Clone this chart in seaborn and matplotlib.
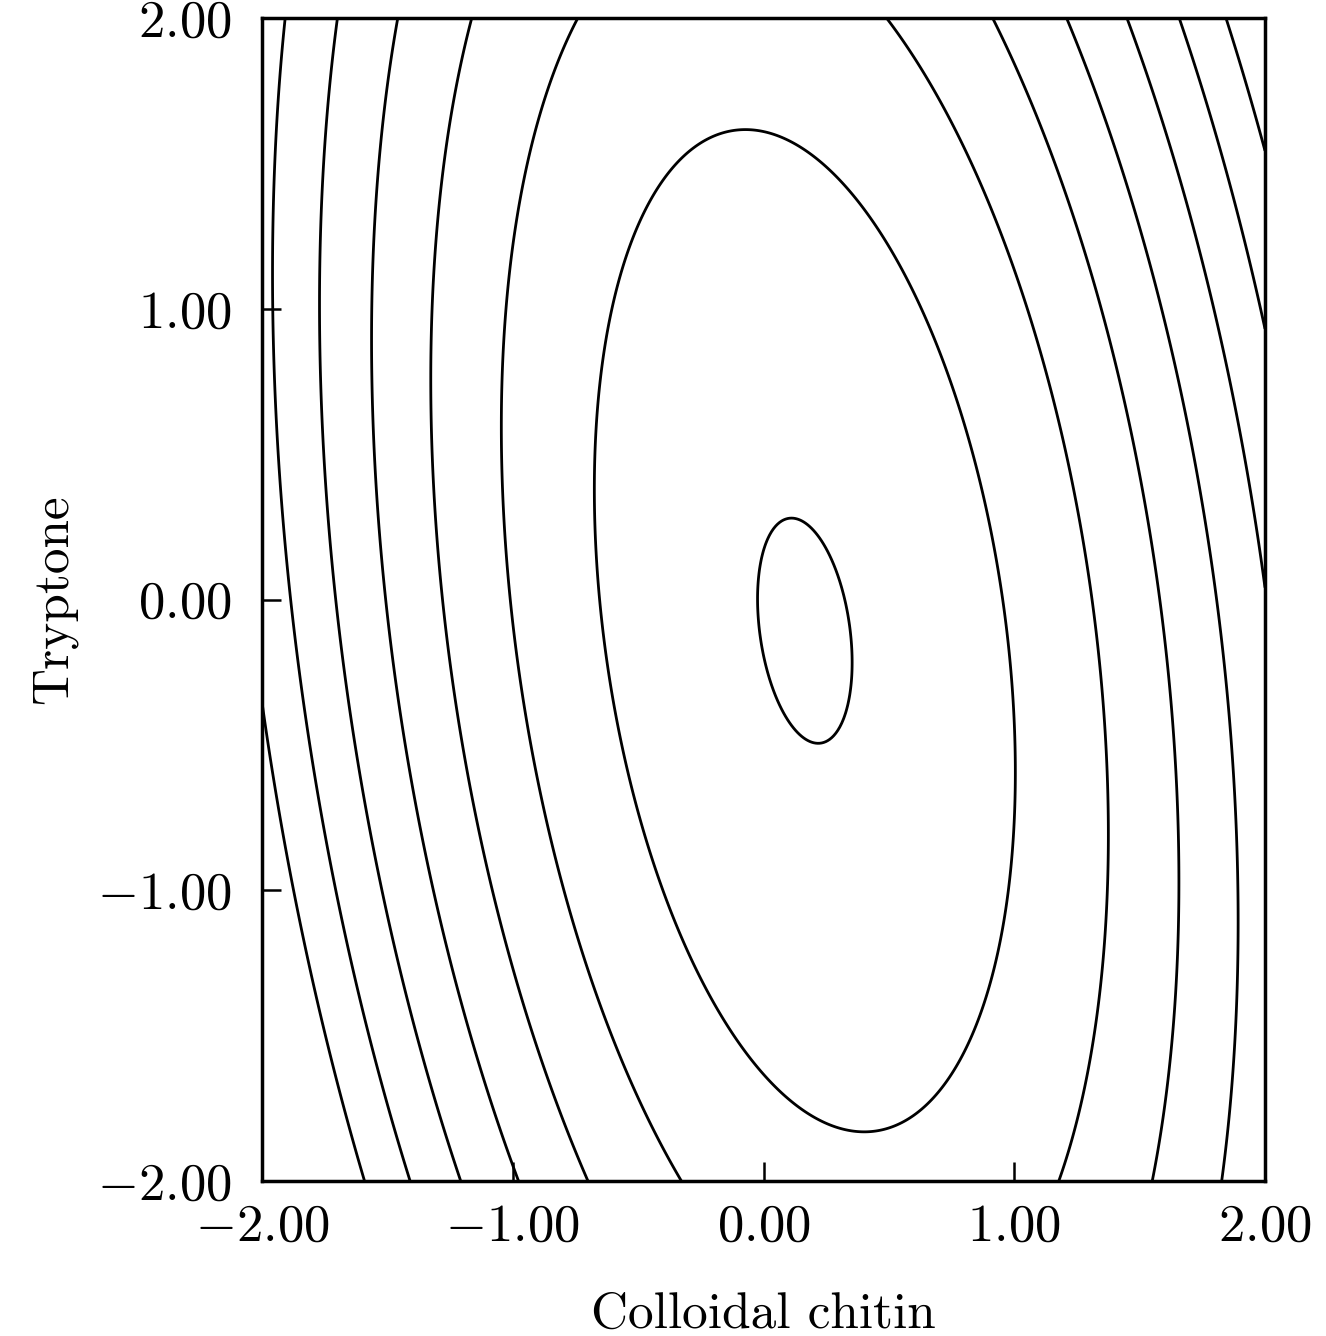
import numpy as np
import matplotlib
matplotlib.use("Agg")
import matplotlib.pyplot as plt
import seaborn as sns

# Fitted second-order response surface in coded units
coef_names = ["b0", "b1", "b2", "b11", "b22", "b12"]
coef_values = [10.891, 0.429, -0.008, -1.429, -0.339, -0.393]
contour_levels = [4, 5, 6, 7, 8, 9, 10, 10.88]

x_ticks = [-2, -1, 0, 1, 2]
y_ticks = [-2, -1, 0, 1, 2]
x_tick_labels = [r"$-2.00$", r"$-1.00$", r"$0.00$", r"$1.00$", r"$2.00$"]
y_tick_labels = [r"$-2.00$", r"$-1.00$", r"$0.00$", r"$1.00$", r"$2.00$"]
x_label = "Colloidal chitin"
y_label = "Tryptone"

sns.set_style("white")
plt.rcParams["mathtext.fontset"] = "cm"
plt.rcParams["font.family"] = ["cmr10", "DejaVu Serif"]
plt.rcParams["axes.unicode_minus"] = False
plt.rcParams["text.color"] = "black"
plt.rcParams["axes.labelcolor"] = "black"

fig = plt.figure(figsize=(13.26, 13.36), dpi=100)
ax = fig.add_axes([262 / 1326, 1 - 1181 / 1336, (1265 - 262) / 1326, (1181 - 18) / 1336])

c = dict(zip(coef_names, coef_values))
gx = np.linspace(-2, 2, 501)
gy = np.linspace(-2, 2, 501)
X, Y = np.meshgrid(gx, gy)
Z = (c["b0"] + c["b1"] * X + c["b2"] * Y + c["b11"] * X ** 2
     + c["b22"] * Y ** 2 + c["b12"] * X * Y)

ax.contour(X, Y, Z, levels=contour_levels, colors="black", linewidths=2.0)

ax.set_xlim(-2, 2)
ax.set_ylim(-2, 2)
ax.set_xticks(x_ticks, labels=x_tick_labels)
ax.set_yticks(y_ticks, labels=y_tick_labels)
ax.tick_params(axis="both", direction="in", length=14, width=1.8,
               labelsize=38, bottom=True, left=True, top=False, right=False,
               colors="black", labelcolor="black")
ax.tick_params(axis="x", pad=16)
ax.tick_params(axis="y", pad=22)
for s in ax.spines.values():
    s.set_linewidth(2.5)
    s.set_color("black")

ax.set_xlabel(x_label, fontsize=37, labelpad=30, color="black")
ax.set_ylabel(y_label, fontsize=37, labelpad=14, color="black")

fig.savefig("out.png", dpi=100, facecolor="white")
